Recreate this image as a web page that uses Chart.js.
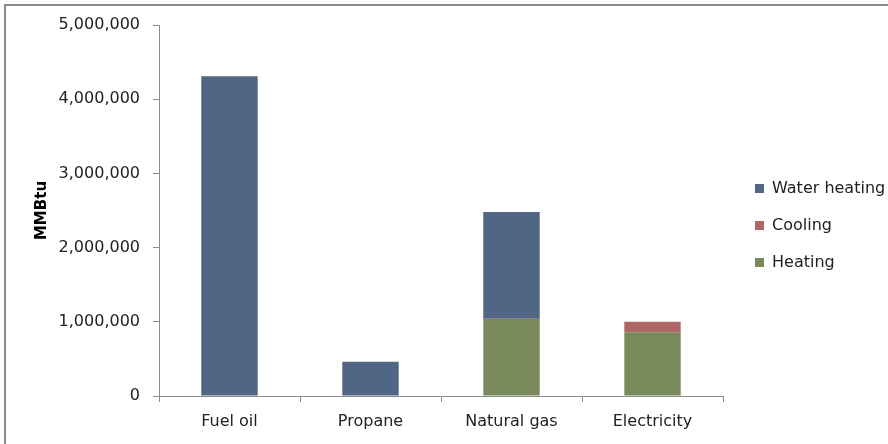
<!DOCTYPE html>
<html>
<head>
<meta charset="utf-8">
<script src="https://cdn.jsdelivr.net/npm/chart.js@4"></script>
<style>
  html, body { margin: 0; padding: 0; background: #fff; }
  #wrap { position: relative; width: 888px; height: 444px; overflow: hidden; font-family: 'DejaVu Sans', sans-serif; }
  #frame { position: absolute; left: 4px; top: 4px; width: 900px; height: 460px;
           border-top: 2px solid #8c8c8c; border-left: 2px solid #8c8c8c; box-sizing: border-box; }
  canvas { position: absolute; left: 0; top: 0; }
  #legend { position: absolute; left: 755px; top: 177px; margin: 0; padding: 0; list-style: none; }
  #legend li { height: 37px; line-height: 22px; font-size: 16px; color: #222; white-space: nowrap; }
  #legend span { display: inline-block; width: 9px; height: 9px; margin-right: 8px; vertical-align: 0px; }
</style>
</head>
<body>
<div id="wrap">
  <div id="frame"></div>
  <canvas id="energyChart" width="888" height="444"></canvas>
  <ul id="legend"></ul>
</div>
<script>
// categories and series values (MMBtu)
const fuels = ['Fuel oil', 'Propane', 'Natural gas', 'Electricity'];
const heating = [0, 0, 1040000, 860000];
const cooling = [0, 0, 0, 140000];
const waterHeating = [4310000, 460000, 1440000, 0];
const yTicks = [0, 1000000, 2000000, 3000000, 4000000, 5000000];

const ctx = document.getElementById('energyChart').getContext('2d');
const legendList = document.getElementById('legend');
const fontFamily = "'DejaVu Sans', sans-serif";

const energyChart = new Chart(ctx, {
    type: 'bar',
    data: {
        labels: fuels,
        datasets: [
            { label: 'Heating', data: heating, backgroundColor: 'rgb(122, 137, 91)' },
            { label: 'Cooling', data: cooling, backgroundColor: 'rgb(176, 102, 102)' },
            { label: 'Water heating', data: waterHeating, backgroundColor: 'rgb(81, 102, 132)' }
        ]
    },
    options: {
        responsive: false,
        animation: false,
        layout: { padding: { top: 25, right: 165, bottom: 0, left: 0 } },
        datasets: { bar: { categoryPercentage: 1, barPercentage: 0.4 } },
        plugins: {
            legend: { display: false }, // drawn as html list below
            tooltip: { enabled: false }
        },
        scales: {
            x: {
                stacked: true,
                afterFit: (scale) => { scale.height = 48; },
                border: { display: true, color: '#8c8c8c', width: 1 },
                grid: { display: true, drawOnChartArea: false, drawTicks: true, tickLength: 6, color: '#8c8c8c', offset: true },
                ticks: { color: '#222', padding: 10, font: { family: fontFamily, size: 16 } }
            },
            y: {
                stacked: true,
                min: 0,
                max: 5000000,
                afterFit: (scale) => { scale.width = 159; },
                afterBuildTicks: (scale) => { scale.ticks = yTicks.map(v => ({ value: v })); },
                border: { display: true, color: '#8c8c8c', width: 1 },
                grid: { display: true, drawOnChartArea: false, drawTicks: true, tickLength: 6, color: '#8c8c8c' },
                ticks: {
                    color: '#222',
                    padding: 13,
                    font: { family: fontFamily, size: 16 },
                    callback: (v) => v.toLocaleString('en-US')
                },
                title: {
                    display: true,
                    text: 'MMBtu',
                    color: '#000',
                    padding: { top: 33, bottom: 0 },
                    font: { family: fontFamily, size: 15, weight: 'bold' }
                }
            }
        }
    }
});

// Legend, top to bottom in reverse stack order
energyChart.data.datasets.slice().reverse().forEach(ds => {
    const item = document.createElement('li');
    const box = document.createElement('span');
    box.style.background = ds.backgroundColor;
    item.appendChild(box);
    item.appendChild(document.createTextNode(ds.label));
    legendList.appendChild(item);
});
</script>
</body>
</html>
